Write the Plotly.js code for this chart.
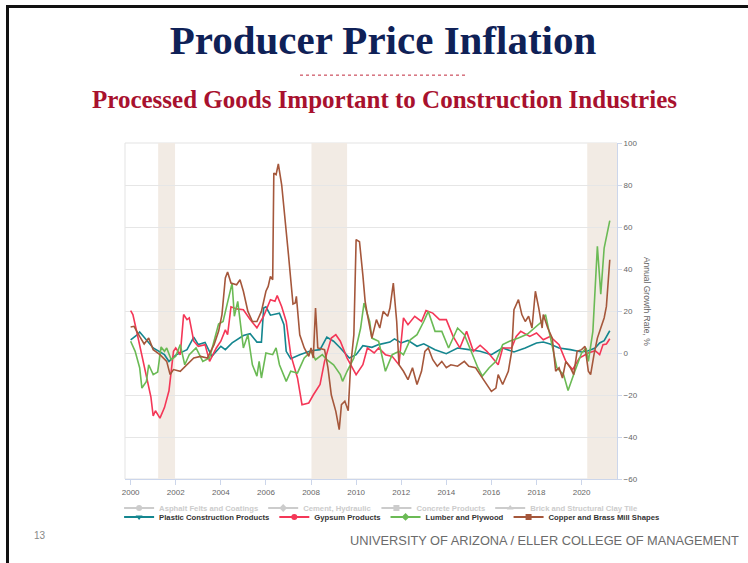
<!DOCTYPE html>
<html>
<head>
<meta charset="utf-8">
<script src="https://cdn.plot.ly/plotly-3.0.1.min.js"></script>
<style>
  html, body { margin: 0; padding: 0; background: #ffffff; }
  #wrap { position: relative; width: 748px; height: 563px; overflow: hidden; }
  #chart { position: absolute; left: 0; top: 0; width: 748px; height: 563px; }
  #frame { position: absolute; left: 6px; top: 5px; width: 745px; height: 560px;
           border-left: 3px solid #111; border-top: 3px solid #111; pointer-events: none; }
</style>
</head>
<body>
<div id="wrap">
  <div id="chart"></div>
  <div id="frame"></div>
</div>
<script>
// ---------------- data ----------------
const plasticDates = [2000.0,2000.3,2000.4,2001.0,2001.5,2001.7,2002.0,2002.5,2002.8,2003.0,2003.3,2003.6,2004.0,2004.2,2004.5,2005.0,2005.3,2005.6,2005.8,2005.9,2006.0,2006.2,2006.6,2006.8,2006.9,2007.1,2007.5,2008.0,2008.4,2008.7,2009.0,2009.3,2009.7,2010.0,2010.3,2010.7,2011.0,2011.5,2011.7,2012.0,2012.3,2012.7,2013.0,2013.5,2014.0,2014.5,2015.0,2015.5,2016.0,2016.5,2017.0,2017.5,2018.0,2018.3,2018.6,2019.0,2019.5,2020.0,2020.3,2020.6,2020.8,2021.0,2021.25];
const plasticValues = [6.3,8.7,10,2.4,-0.8,-4,-1,1.6,7.6,4,5,-1.6,3.2,1.6,4.8,8.3,9.2,5.2,5.2,21.4,22,18,19,13.5,0.8,-2.7,-0.8,1.1,1.6,7.6,5.6,2.4,-2.4,-0.8,3.5,2.7,4,5.2,6.7,4.8,6,3.2,4.4,1.6,-0.3,2.4,1.6,0.8,-0.8,2.4,0.5,2.4,4.8,5.2,4.3,2.4,1.6,0.5,1.1,2.4,4.8,5.9,10.6];

const gypsumDates = [2000.0,2000.1,2000.3,2000.6,2000.9,2001.0,2001.1,2001.3,2001.5,2001.7,2001.8,2001.9,2002.0,2002.2,2002.35,2002.5,2002.6,2002.8,2003.0,2003.3,2003.5,2003.8,2004.0,2004.2,2004.3,2004.45,2004.7,2005.0,2005.3,2005.6,2005.9,2006.2,2006.4,2006.5,2006.7,2006.9,2007.1,2007.4,2007.6,2007.9,2008.1,2008.4,2008.6,2008.9,2009.1,2009.3,2009.6,2009.9,2010.0,2010.3,2010.5,2010.8,2011.0,2011.3,2011.6,2011.9,2012.1,2012.3,2012.6,2012.9,2013.1,2013.4,2013.7,2014.0,2014.3,2014.6,2014.9,2015.2,2015.5,2015.8,2016.1,2016.3,2016.5,2016.9,2017.1,2017.3,2017.7,2018.0,2018.3,2018.6,2019.0,2019.3,2019.6,2019.9,2020.3,2020.6,2020.8,2020.95,2021.1,2021.25];
const gypsumValues = [20.2,18.3,8.7,-5.6,-21,-30,-27.5,-31,-26,-18,-7,0.8,2.4,-0.8,18.3,15.9,16.7,5.6,3.2,4,-4,2.4,5.6,11,8.7,22,21,20.6,16,12,17.5,25.4,24.6,27.3,22,15,-0.8,-11.9,-24.6,-23.8,-20,-15,-4,7.1,8.7,5.6,-2.4,-8.7,-10.3,-5.6,2.4,0,2.4,-0.8,-1.6,-5.6,16.7,13.5,17.5,15,20.2,19,15.9,15.9,7.9,2.4,10.3,0.8,3.7,0.8,-3.2,-5.6,2.4,2.4,7.9,10.3,7.9,9.5,6.3,7.9,4,-4,-7.9,-2.4,0,1.1,-0.8,4,4.3,6.8];

const lumberDates = [2000.0,2000.2,2000.4,2000.5,2000.7,2000.8,2001.0,2001.2,2001.35,2001.5,2001.6,2001.8,2002.0,2002.2,2002.4,2002.6,2002.9,2003.2,2003.5,2003.7,2003.9,2004.1,2004.3,2004.5,2004.6,2004.75,2005.0,2005.2,2005.4,2005.6,2005.7,2005.8,2006.0,2006.3,2006.45,2006.6,2006.9,2007.1,2007.4,2007.7,2008.0,2008.2,2008.5,2008.7,2009.0,2009.3,2009.4,2009.6,2009.9,2010.2,2010.35,2010.6,2010.7,2011.0,2011.3,2011.6,2011.9,2012.1,2012.4,2012.7,2013.0,2013.2,2013.5,2013.8,2014.1,2014.5,2014.8,2015.1,2015.4,2015.6,2015.9,2016.2,2016.5,2016.8,2017.2,2017.6,2017.9,2018.2,2018.4,2018.6,2018.9,2019.2,2019.4,2019.7,2020.0,2020.2,2020.3,2020.5,2020.7,2020.85,2021.0,2021.25];
const lumberValues = [5.6,0.8,-7,-16.7,-13.5,-5.6,-10.3,-9,2.9,0.8,2.4,-3.2,-1.6,4,-5.6,-0.8,2.4,-4,-2.4,5.6,13.8,15,24.6,33.3,17.5,24.6,2.4,8.7,-5.6,-11,-4,-11.9,0,-0.8,2.4,-5.6,-13.5,-8.7,-9.5,-2.4,0.8,-3.2,-0.8,-3.2,-5.6,-10.3,-13.5,-8.7,-2.4,11.9,23.8,15,7.1,5.6,-8.7,-0.8,0.8,-0.8,6.3,8.7,15,19.8,10.3,10.3,2.4,11.9,8.7,0.8,-7,-11,-7,-4,4,5.6,7.1,9,11.9,14.6,18.3,8.7,-7,-10.3,-17.9,-8.7,0,2.4,-4,10.3,50.8,28,50,63];

const copperDates = [2000.0,2000.15,2000.4,2000.6,2000.8,2001.0,2001.3,2001.6,2001.75,2001.9,2002.2,2002.5,2002.8,2003.1,2003.4,2003.7,2003.9,2004.05,2004.2,2004.3,2004.45,2004.7,2004.85,2005.0,2005.2,2005.4,2005.6,2005.8,2006.0,2006.1,2006.2,2006.3,2006.35,2006.45,2006.55,2006.7,2006.85,2007.0,2007.2,2007.3,2007.35,2007.5,2007.7,2007.9,2008.0,2008.1,2008.2,2008.3,2008.6,2008.75,2008.9,2009.1,2009.25,2009.35,2009.5,2009.65,2009.75,2009.9,2010.0,2010.15,2010.3,2010.4,2010.5,2010.7,2010.9,2011.05,2011.2,2011.4,2011.5,2011.65,2011.8,2011.9,2012.1,2012.3,2012.5,2012.7,2012.9,2013.05,2013.2,2013.4,2013.6,2013.8,2014.0,2014.2,2014.5,2014.8,2015.0,2015.3,2015.5,2015.7,2016.0,2016.2,2016.3,2016.5,2016.75,2016.9,2017.0,2017.2,2017.35,2017.5,2017.65,2017.8,2017.95,2018.1,2018.25,2018.3,2018.5,2018.7,2018.85,2019.0,2019.15,2019.3,2019.5,2019.65,2019.8,2020.0,2020.15,2020.3,2020.4,2020.55,2020.7,2020.85,2021.0,2021.1,2021.25];
const copperValues = [12.4,12.7,7.9,4.3,7.1,1.6,-0.8,-4,-10.3,-7.9,-8.7,-5.6,-2.4,-1.6,-2.4,4,10.3,18.3,35.7,38.6,33.3,32.5,34.9,29.4,19.8,15,15,19.8,29.4,31.7,36.5,34.9,85.7,84.9,90,80,64.3,46.8,23.3,23.8,27,8.7,2.4,-1.6,2.4,-2.4,21.4,2.4,1.6,-7,-20,-27.8,-36.5,-24.6,-23,-27.5,-7,8.7,54,53,37,24.6,18.3,7.1,15.9,11.9,19.8,17.5,21.4,33.3,15,-5.6,-8.7,-12.7,-7,-15,-8.7,0.8,2.4,-3.2,-6.3,-4,-7,-5.6,-6.3,-4,-6.3,-7,-10.3,-13.5,-18.3,-16.7,-10.3,-15,-8.7,0.8,20.6,25.4,18.3,15,17.5,11.9,29.4,21.4,11.9,18.3,11.9,7.1,-8.7,-7,-11.9,-4,-7,-10.3,0.8,1.6,3.2,-8.7,-10.3,-0.8,7.1,11.9,16.7,22.2,44.4];

const recessionStarts = [2001.22, 2008.02, 2020.25];
const recessionEnds   = [2001.97, 2009.60, 2021.60];

const hiddenSeriesNames  = ['Asphalt Felts and Coatings', 'Cement, Hydraulic', 'Concrete Products', 'Brick and Structural Clay Tile'];
const hiddenSeriesSymbols = ['circle', 'diamond', 'square', 'triangle-up'];
const shownSeriesNames   = ['Plastic Construction Products', 'Gypsum Products', 'Lumber and Plywood', 'Copper and Brass Mill Shapes'];
const shownSeriesSymbols = ['triangle-down', 'circle', 'diamond', 'square'];
const shownSeriesColors  = ['#14868f', '#f43757', '#6bba55', '#a5573b'];

const xTickYears = [2000, 2002, 2004, 2006, 2008, 2010, 2012, 2014, 2016, 2018, 2020];
const yTickValues = [-60, -40, -20, 0, 20, 40, 60, 80, 100];

// ---------------- traces ----------------
const seriesDates  = [plasticDates, gypsumDates, lumberDates, copperDates];
const seriesValues = [plasticValues, gypsumValues, lumberValues, copperValues];

const traces = [];
for (let i = 0; i < 4; i++) {
  traces.push({
    type: 'scatter', mode: 'lines',
    x: seriesDates[i], y: seriesValues[i],
    name: shownSeriesNames[i], showlegend: false,
    line: { color: shownSeriesColors[i], width: 1.6 }
  });
}
// legend entries (row 1: greyed-out hidden series)
for (let i = 0; i < hiddenSeriesNames.length; i++) {
  traces.push({
    type: 'scatter', mode: 'lines+markers', x: [null], y: [null],
    name: hiddenSeriesNames[i], legend: 'legend',
    line: { color: '#cccccc', width: 2 },
    marker: { symbol: hiddenSeriesSymbols[i], size: 6, color: '#cccccc' }
  });
}
// legend entries (row 2: shown series)
for (let i = 0; i < shownSeriesNames.length; i++) {
  traces.push({
    type: 'scatter', mode: 'lines+markers', x: [null], y: [null],
    name: shownSeriesNames[i], legend: 'legend2',
    line: { color: shownSeriesColors[i], width: 2 },
    marker: { symbol: shownSeriesSymbols[i], size: 6, color: shownSeriesColors[i] }
  });
}

// ---------------- layout ----------------
const shapes = [
  { type: 'rect', xref: 'paper', yref: 'paper', x0: 0, x1: 1, y0: 0, y1: 1,
    line: { color: '#e3e3e3', width: 1 }, fillcolor: 'rgba(0,0,0,0)', layer: 'below' },
  { type: 'line', xref: 'paper', yref: 'paper', x0: 0.3557, x1: 0.695, y0: 1.202, y1: 1.202,
    line: { color: '#c0283c', width: 1, dash: 'dot' } }
];
for (let i = 0; i < recessionStarts.length; i++) {
  shapes.push({ type: 'rect', xref: 'x', yref: 'paper', x0: recessionStarts[i], x1: recessionEnds[i],
    y0: 0, y1: 1, fillcolor: '#f2ebe4', line: { width: 0 }, layer: 'below' });
}

const legendFont = { family: 'Liberation Sans, Arial, sans-serif', size: 7.7, weight: 'bold' };

const layout = {
  width: 748, height: 563,
  margin: { l: 125, r: 131, t: 143, b: 84 },
  paper_bgcolor: '#ffffff', plot_bgcolor: '#ffffff',
  title: {
    text: 'Producer Price Inflation',
    font: { family: 'Liberation Serif, Times New Roman, serif', size: 41, color: '#0f2157', weight: 'bold' },
    x: 0.512, xref: 'container', xanchor: 'center',
    y: 0.929, yref: 'container', yanchor: 'middle'
  },
  xaxis: {
    range: [1999.75, 2021.57], tickvals: xTickYears, ticktext: xTickYears.map(String),
    showgrid: false, zeroline: false, showline: true, linecolor: '#ccd6eb', linewidth: 1,
    ticks: 'outside', ticklen: 5, tickcolor: '#ccd6eb',
    tickfont: { family: 'Liberation Sans, Arial, sans-serif', size: 8, color: '#666666' }
  },
  yaxis: {
    range: [-60, 100], tickvals: yTickValues, side: 'right',
    showgrid: true, gridcolor: '#e6e6e6', gridwidth: 1, zeroline: false,
    showline: true, linecolor: '#ccd6eb', linewidth: 1,
    ticks: 'outside', ticklen: 4, tickcolor: '#ccd6eb',
    tickfont: { family: 'Liberation Sans, Arial, sans-serif', size: 8, color: '#666666' }
  },
  shapes: shapes,
  annotations: [
    { text: 'Processed Goods Important to Construction Industries', xref: 'paper', yref: 'paper',
      x: 0.527, y: 1.128, xanchor: 'center', yanchor: 'middle', showarrow: false,
      font: { family: 'Liberation Serif, Times New Roman, serif', size: 25, color: '#a8112e', weight: 'bold' } },
    { text: 'Annual Growth Rate, %', xref: 'paper', yref: 'paper', x: 1.061, y: 0.53,
      xanchor: 'center', yanchor: 'middle', textangle: 90, showarrow: false,
      font: { family: 'Liberation Sans, Arial, sans-serif', size: 8.5, color: '#666666' } },
    { text: '13', xref: 'paper', yref: 'paper', x: -0.173, y: -0.167,
      xanchor: 'center', yanchor: 'middle', showarrow: false,
      font: { family: 'Liberation Sans, Arial, sans-serif', size: 10, color: '#888888' } },
    { text: 'UNIVERSITY OF ARIZONA / ELLER COLLEGE OF MANAGEMENT', xref: 'paper', yref: 'paper',
      x: 0.8527, y: -0.1845, xanchor: 'center', yanchor: 'middle', showarrow: false,
      font: { family: 'Liberation Sans, Arial, sans-serif', size: 12.8, color: '#6b6b6b' } }
  ],
  legend: {
    orientation: 'h', xref: 'paper', yref: 'paper',
    x: -0.012, xanchor: 'left', y: -0.0863, yanchor: 'middle',
    bgcolor: 'rgba(0,0,0,0)', itemwidth: 30, tracegroupgap: 0,
    font: Object.assign({ color: '#cccccc' }, legendFont)
  },
  legend2: {
    orientation: 'h', xref: 'paper', yref: 'paper',
    x: -0.012, xanchor: 'left', y: -0.113, yanchor: 'middle',
    bgcolor: 'rgba(0,0,0,0)', itemwidth: 30, tracegroupgap: 0,
    font: Object.assign({ color: '#333333' }, legendFont)
  },
  hovermode: false
};

Plotly.newPlot('chart', traces, layout, { staticPlot: true, displayModeBar: false });
</script>
</body>
</html>
